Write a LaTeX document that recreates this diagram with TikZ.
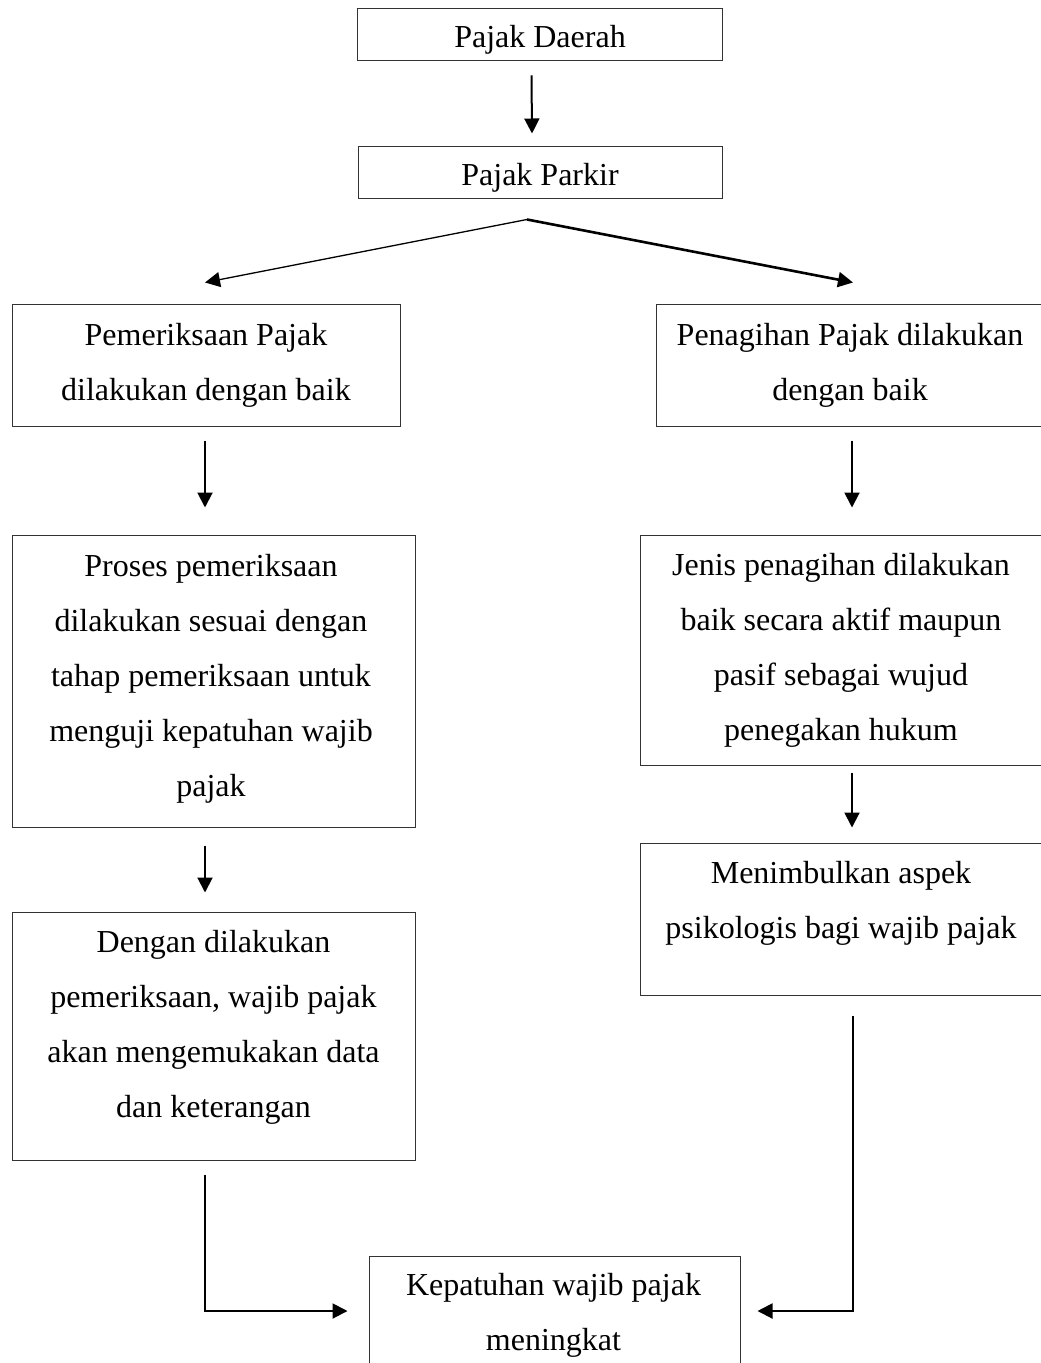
\documentclass[tikz,border=0pt]{standalone}
\usepackage{fontspec}
\setmainfont{Liberation Serif}
\usetikzlibrary{arrows.meta,calc}
\tikzset{
  boxnode/.style 2 args={draw=black!80, line width=0.5pt, rectangle, inner sep=0pt,
    minimum width=0.5pt*#1, minimum height=0.5pt*#2},
  txt/.style={inner sep=0pt, align=center, font=\fontsize{16pt}{27.5pt}\selectfont},
  arr/.style={-{Triangle[length=7.5pt,width=7.5pt]}, line width=1pt, black},
  conn/.style={line width=1pt, black}
}
\begin{document}
\begin{tikzpicture}[x=0.5pt,y=-0.5pt]
\useasboundingbox (0,0) rectangle (1040,1363);
% boxes
\node[boxnode={365}{52}] (top) at (539.5,35) {};
\node[boxnode={364}{52}] (park) at (540,173) {};
\node[boxnode={388}{122}] (l1) at (206,366) {};
\node[boxnode={400}{122}] (r1) at (856,366) {};
\node[boxnode={403}{292}] (l2) at (213.5,681) {};
\node[boxnode={412}{230}] (r2) at (846,650) {};
\node[boxnode={403}{248}] (l3) at (213.5,1036) {};
\node[boxnode={412}{152}] (r3) at (846,919) {};
\node[boxnode={371}{124}] (bot) at (554.5,1318) {};
% texts
\node[txt] (topt) at (540,39.5) {Pajak Daerah};
\node[txt] (parkt) at (540,178) {Pajak Parkir};
\node[txt] (l1t) at (206,365) {Pemeriksaan Pajak\\dilakukan dengan baik};
\node[txt] (r1t) at (850,365) {Penagihan Pajak dilakukan\\dengan baik};
\node[txt] (l2t) at (211,678.5) {Proses pemeriksaan\\dilakukan sesuai dengan\\tahap pemeriksaan untuk\\menguji kepatuhan wajib\\pajak};
\node[txt] (r2t) at (841,650.5) {Jenis penagihan dilakukan\\baik secara aktif maupun\\pasif sebagai wujud\\penegakan hukum};
\node[txt] (l3t) at (213.5,1027.5) {Dengan dilakukan\\pemeriksaan, wajib pajak\\akan mengemukakan data\\dan keterangan};
\node[txt] (r3t) at (841,903.5) {Menimbulkan aspek\\psikologis bagi wajib pajak};
\node[txt] (bott) at (553.5,1315.5) {Kepatuhan wajib pajak\\meningkat};
% connectors
\draw[arr] ([xshift=-4pt,yshift=-7pt]top.south) -- ([xshift=-4pt,yshift=6.5pt]park.north);
\coordinate (split) at ([xshift=-6.5pt,yshift=-10pt]park.south);
\draw[arr, line width=0.65pt] (split) -- ([xshift=-0.5pt,yshift=11pt]l1.north);
\draw[arr, line width=1.3pt] (split) -- ([xshift=-1.5pt,yshift=11pt]r1.north);
\draw[arr] ([xshift=-0.5pt,yshift=-6.5pt]l1.south) -- ([xshift=-0.5pt,yshift=13.5pt]l1.south |- l2.north);
\draw[arr] ([xshift=-2pt,yshift=-6.5pt]r1.south) -- ([xshift=-2pt,yshift=13.5pt]r1.south |- r2.north);
\draw[arr] ([xshift=-4.25pt,yshift=-9pt]l2.south) -- ([xshift=-4.25pt,yshift=9.5pt]l2.south |- l3.north);
\draw[arr] ([xshift=3pt,yshift=-3.5pt]r2.south) -- ([xshift=3pt,yshift=7.5pt]r2.south |- r3.north);
\coordinate (lend) at ([xshift=-10.5pt,yshift=3.5pt]bot.west);
\coordinate (rend) at ([xshift=8.5pt,yshift=3.5pt]bot.east);
\draw[arr] ([xshift=-4.25pt,yshift=-7pt]l3.south) |- (lend);
\draw[arr] ([xshift=3.5pt,yshift=-10pt]r3.south) |- (rend);
\end{tikzpicture}
\end{document}
